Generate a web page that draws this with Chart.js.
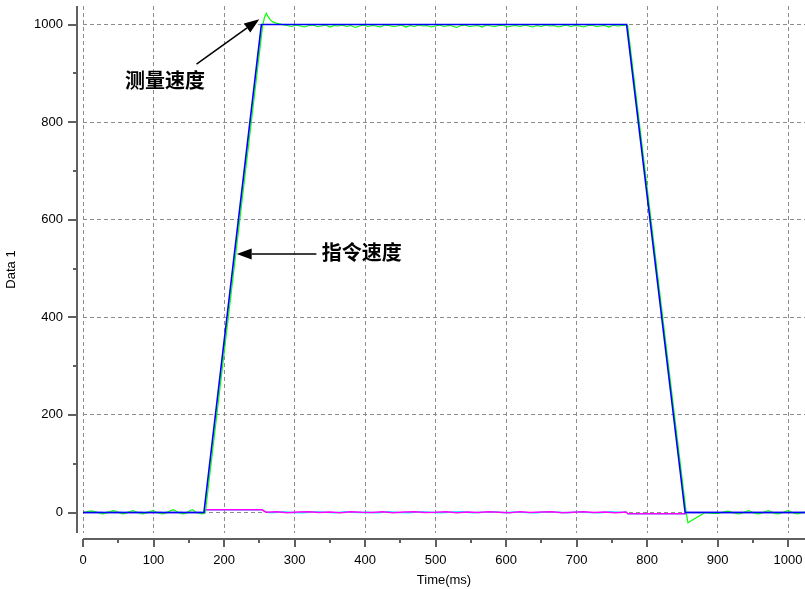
<!DOCTYPE html>
<html><head><meta charset="utf-8">
<script src="https://cdn.jsdelivr.net/npm/chart.js@4/dist/chart.umd.min.js"></script>
<style>html,body{margin:0;padding:0;background:#fff;overflow:hidden}canvas{display:block}</style>
</head><body><canvas id="c" width="805" height="589"></canvas>
<script>
// ---- data ----
const cmdTime  = [0, 171.5, 253, 771, 854, 1024];
const cmdSpeed = [0, 0, 1000, 1000, 0, 0];

const measTime = [0,4,9,14,19,24,28,33,38,43,48,53,57,62,67,71,76,81,85,90,95,99,104,109,113,118,123,128,133,138,142,147,151,155,160,165,169,172,
  173.5,255,257.5,260,263,266,270,274,280,285,
  290,296,302,308,314,320,326,332,338,344,350,356,362,368,374,380,386,392,398,404,
  410,416,422,428,434,440,446,452,458,464,470,476,482,488,494,500,506,512,518,524,
  530,536,542,548,554,560,566,572,578,584,590,596,602,608,614,620,626,632,638,644,
  650,656,662,668,674,680,686,692,698,704,710,716,722,728,734,740,746,752,758,764,770,
  772.5,855.5,858,866,874,882,
  888,894,900,906,911,915,920,925,930,935,940,944,949,953,958,963,968,972,977,981,986,991,996,1000,1005,1009,1014,1019,1024];
const measSpeed = [0,1,3,3,1,-2,-3,-1,2,4,2,-2,-3,-1,2,4,1,-2,-3,-1,2,4,1,-2,-3,-1,3,6,2,-2,-3,-1,3,6,1,-2,-3,-1,
  0,1000,1015,1023,1015,1009,1005,1003,1001,999,
  998,996,999,997,995,998,999,996,997,999,995,998,997,999,996,998,994,997,999,996,
  998,997,995,999,998,996,997,999,995,998,996,999,997,998,995,997,999,996,998,997,
  994,998,999,996,997,998,995,999,997,996,998,999,995,997,998,996,999,997,995,998,
  996,999,997,998,995,997,999,996,998,997,995,998,999,996,997,998,995,999,997,998,999,
  998,0,-21,-14,-7,0,
  -1,-2,-2,0,2,3,1,-2,-3,-1,2,4,1,-2,-3,-1,2,4,1,-2,-3,-1,2,4,1,-2,-3,-1,1];

const curTime  = [0,27,29,33,55,57,61,84,86,90,112,114,118,141,143,147,167,169,172,173,254,257,260,
  275,290,305,320,335,350,365,380,395,410,425,440,455,470,485,500,515,530,545,560,575,590,605,620,635,650,665,680,695,710,725,740,755,770,
  773,854,856,900,950,1000,1024];
const curValue = [0,0,-1,0,0,-1,0,0,-1,0,0,-1,0,0,-1,0,0,-1,0,5.5,5.5,3,0.5,
  1.5,-0.5,1,1.5,0,1,-0.5,1.5,0.5,0,1.5,-0.5,1,1.5,0,0.5,1.5,-0.5,1,0,1.5,0.5,-0.5,1.5,0,1,1.5,-0.5,0.5,1.5,0,1,-0.5,1,
  -2.5,-2.5,0,0,0,0,0];

const auxTime  = [0,100,172,173,254,257,260,268,283,298,313,328,343,358,373,388,403,418,433,448,463,478,493,508,523,538,553,568,583,598,613,628,643,658,673,688,703,718,733,748,763,770,773,854,856,900,1024];
const auxValue = [0,0,0,5.5,5.5,3,0.5,-0.5,1.5,0,-0.5,1.5,0.5,-0.5,1.5,0,0.5,-0.5,1.5,0,-0.5,1.5,0.5,-0.5,1,1.5,-0.5,0.5,1.5,-0.5,1,0,-0.5,1.5,0.5,-0.5,1.5,0,-0.5,1.5,0,1,-2.5,-2.5,0,0,0];

const xMajorTicks = [0,100,200,300,400,500,600,700,800,900,1000];
const xMinorTicks = [50,150,250,350,450,550,650,750,850,950];
const yMajorTicks = [0,200,400,600,800,1000];
const yMinorTicks = [100,300,500,700,900];

const annotations = [
  {text:'测量速度', tx:59.6, ty:886, fromX:161, fromY:919, toX:250, toY:1011},
  {text:'指令速度', tx:338.5, ty:533, fromX:331, fromY:530, toX:218, toY:530}
];

// ---- build ----
const pts = (xs, ys) => xs.map((x, i) => ({x, y: ys[i]}));
const FONT = {family:'"Liberation Sans", Arial, sans-serif', size:13};

const axesPlugin = {
  id:'offsetAxes',
  afterDraw(chart){
    const {ctx, chartArea:a, scales:{x, y}} = chart;
    ctx.save();
    ctx.strokeStyle = '#606060';
    ctx.lineWidth = 2;
    const ax = a.left - 6, ay = a.bottom + 6;
    ctx.beginPath();
    ctx.moveTo(ax, a.top); ctx.lineTo(ax, a.bottom);
    ctx.moveTo(a.left, ay); ctx.lineTo(a.right, ay);
    yMajorTicks.forEach(v => { const p = Math.round(y.getPixelForValue(v)); ctx.moveTo(ax - 9, p); ctx.lineTo(ax, p); });
    yMinorTicks.forEach(v => { const p = Math.round(y.getPixelForValue(v)); ctx.moveTo(ax - 4, p); ctx.lineTo(ax, p); });
    xMajorTicks.forEach(v => { const p = Math.round(x.getPixelForValue(v)); ctx.moveTo(p, ay); ctx.lineTo(p, ay + 8); });
    xMinorTicks.forEach(v => { const p = Math.round(x.getPixelForValue(v)); ctx.moveTo(p, ay); ctx.lineTo(p, ay + 4); });
    ctx.stroke();

    // annotations
    ctx.fillStyle = '#000'; ctx.strokeStyle = '#000'; ctx.lineWidth = 1.5;
    ctx.font = 'bold 20px "Noto Sans CJK SC", sans-serif';
    ctx.textBaseline = 'middle'; ctx.textAlign = 'left';
    annotations.forEach(an => {
      ctx.fillText(an.text, x.getPixelForValue(an.tx), y.getPixelForValue(an.ty));
      const x0 = x.getPixelForValue(an.fromX), y0 = y.getPixelForValue(an.fromY);
      const x1 = x.getPixelForValue(an.toX), y1 = y.getPixelForValue(an.toY);
      const ang = Math.atan2(y1 - y0, x1 - x0), L = 15, W = 5.5;
      const bx = x1 - L*Math.cos(ang), by = y1 - L*Math.sin(ang);
      ctx.beginPath(); ctx.moveTo(x0, y0); ctx.lineTo(bx, by); ctx.stroke();
      ctx.beginPath();
      ctx.moveTo(x1, y1);
      ctx.lineTo(bx + W*Math.sin(ang), by - W*Math.cos(ang));
      ctx.lineTo(bx - W*Math.sin(ang), by + W*Math.cos(ang));
      ctx.closePath(); ctx.fill();
    });
    ctx.restore();
  }
};

const zeroPad = s => { s.paddingLeft = 0; s.paddingRight = 0; s.paddingTop = 0; s.paddingBottom = 0; };

new Chart(document.getElementById('c'), {
  type:'line',
  data:{
    datasets:[
      {data:pts(cmdTime, cmdSpeed), borderColor:'#0000ff', borderWidth:1.6},
      {data:pts(measTime, measSpeed), borderColor:'#00ff00', borderWidth:1.2},
      {data:pts(curTime, curValue), borderColor:'#ff00ff', borderWidth:1.5},
      {data:pts(auxTime, auxValue), borderColor:'#00ffff', borderWidth:1.5}
    ]
  },
  options:{
    responsive:false, animation:false,
    elements:{point:{radius:0}, line:{tension:0}},
    layout:{padding:{top:6, right:0, left:0, bottom:0}},
    plugins:{legend:{display:false}, tooltip:{enabled:false}},
    scales:{
      x:{
        type:'linear', min:0, max:1024,
        afterFit(s){ s.height = 56; zeroPad(s); },
        ticks:{stepSize:100, includeBounds:false, padding:20, color:'#000', font:FONT, maxRotation:0, callback:v => String(v)},
        grid:{drawTicks:false, color:'#8c8c8c', lineWidth:1},
        border:{display:false, dash:[4,3]},
        title:{display:true, text:'Time(ms)', color:'#000', font:FONT, padding:{top:0,bottom:1}}
      },
      y:{
        type:'linear', min:-42, max:1038,
        afterFit(s){ s.width = 83; zeroPad(s); },
        ticks:{stepSize:200, includeBounds:false, padding:20, color:'#000', font:FONT, callback:v => String(v)},
        grid:{drawTicks:false, color:'#8c8c8c', lineWidth:1},
        border:{display:false, dash:[4,3]},
        title:{display:true, text:'Data 1', color:'#000', font:FONT, padding:{top:4,bottom:0}}
      }
    }
  },
  plugins:[axesPlugin]
});
</script>
</body></html>
